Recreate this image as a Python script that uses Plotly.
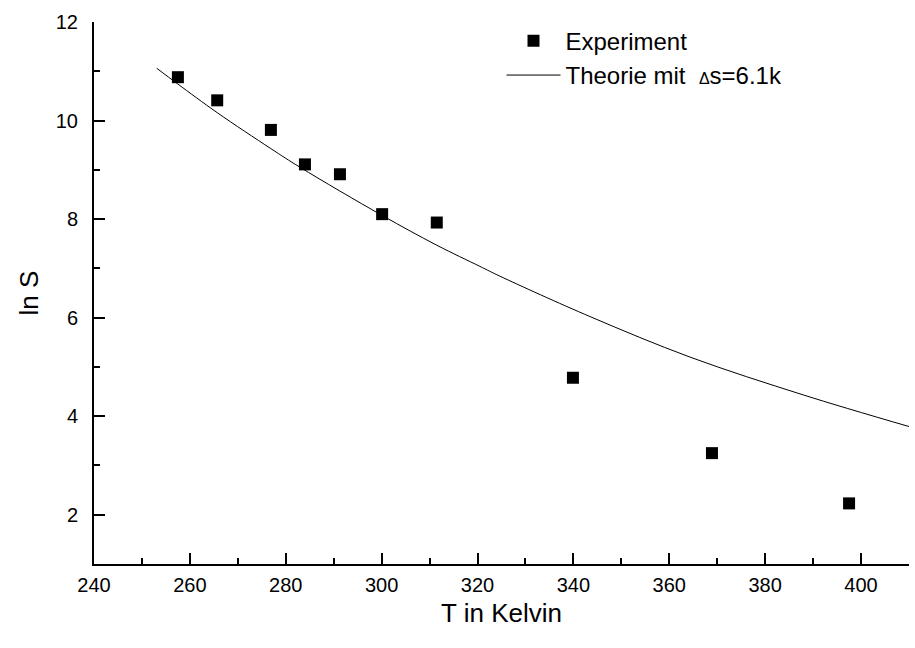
import plotly.graph_objects as go

# Experimental data
T_exp = [257.5, 265.7, 276.9, 284.0, 291.3, 300.1, 311.5, 339.9, 368.9, 397.5]
lnS_exp = [10.88, 10.41, 9.81, 9.11, 8.91, 8.10, 7.93, 4.78, 3.25, 2.23]

# Theory curve
T_th = [253.1, 257.5, 265.7, 276.9, 283.0, 300.0, 311.5, 320.5, 324.7, 343.5, 364.3, 388.0, 410.0]
lnS_th = [11.06, 10.74, 10.16, 9.43, 9.05, 8.08, 7.47, 7.04, 6.84, 6.02, 5.20, 4.43, 3.79]

FONT = "Liberation Sans, Arial, sans-serif"

fig = go.Figure()
fig.add_trace(go.Scatter(
    x=T_exp, y=lnS_exp, mode="markers", name="Experiment",
    marker=dict(symbol="square", size=12, color="black"),
    legendgroup="a",
))
fig.add_trace(go.Scatter(
    x=T_th, y=lnS_th, mode="lines", line=dict(color="black", width=1, shape="spline"),
    name="Theorie mit \u00a0<span style='font-size:16px'>Δ</span>s=6.1k",
    legendgroup="b",
))

axis_common = dict(
    showline=True, linecolor="black", linewidth=2, mirror=False,
    showgrid=False, zeroline=False,
    ticks="inside", ticklen=11, tickwidth=2, tickcolor="black",
    tickfont=dict(family=FONT, size=20, color="black"),
)

fig.update_xaxes(
    range=[240, 410], tick0=240, dtick=20,
    minor=dict(ticks="inside", ticklen=6, tickwidth=2, tickcolor="black", dtick=10, tick0=240),
    title=dict(text="T in Kelvin", font=dict(family=FONT, size=26, color="black"), standoff=9),
    ticklabelstandoff=2,
    **axis_common,
)
fig.update_yaxes(
    range=[1, 12], tick0=0, dtick=2,
    minor=dict(ticks="inside", ticklen=6, tickwidth=2, tickcolor="black", dtick=1, tick0=0),
    title=dict(text="ln S", font=dict(family=FONT, size=26, color="black"), standoff=10),
    ticklabelstandoff=10,
    **axis_common,
)

fig.update_layout(
    width=915, height=648,
    margin=dict(l=94, r=6, t=22, b=84),
    plot_bgcolor="white", paper_bgcolor="white",
    font=dict(family=FONT, color="black"),
    legend=dict(
        x=0.500, y=1.006, xanchor="left", yanchor="top",
        font=dict(family=FONT, size=24, color="black"),
        bgcolor="rgba(0,0,0,0)", tracegroupgap=0, itemwidth=54,
    ),
)

fig.write_html("out.html")
